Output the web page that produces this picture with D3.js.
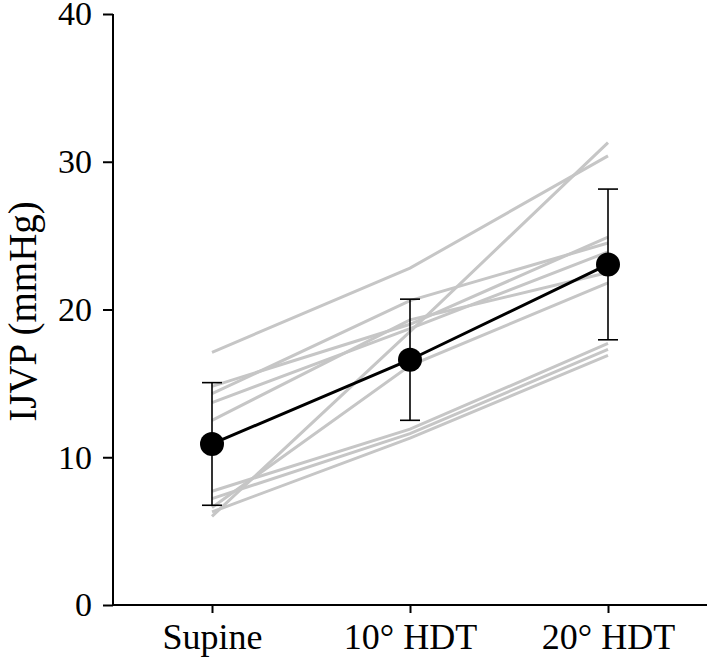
<!DOCTYPE html>
<html>
<head>
<meta charset="utf-8">
<script src="https://cdn.jsdelivr.net/npm/d3@7"></script>
<style>
  html, body { margin: 0; padding: 0; background: #fff; }
  svg { display: block; }
</style>
</head>
<body>
<svg id="chart" width="709" height="659"></svg>
<script>
// ---- data ----
const categories = ["Supine", "10° HDT", "20° HDT"];
const yTicks = [0, 10, 20, 30, 40];
const yLabel = "IJVP (mmHg)";

// individual subjects (values at Supine, 10° HDT, 20° HDT)
const subject1  = [17.1, 22.8, 30.4];
const subject2  = [6.0, 18.5, 31.3];
const subject3  = [14.8, 19.0, 24.9];
const subject4  = [14.3, 20.6, 24.5];
const subject5  = [13.7, 18.7, 23.9];
const subject6  = [12.5, 19.3, 22.5];
const subject7  = [6.6, 16.2, 21.8];
const subject8  = [7.7, 11.9, 17.7];
const subject9  = [7.2, 11.6, 17.3];
const subject10 = [6.3, 11.3, 16.9];
const subjects = [subject1, subject2, subject3, subject4, subject5,
                  subject6, subject7, subject8, subject9, subject10];

// group mean and SD
const meanValues = [10.9, 16.6, 23.05];
const sdValues   = [4.15, 4.1, 5.1];

// ---- drawing ----
const svg = d3.select("#chart");
const mLeft = 113, mRight = 707, mTop = 14, mBottom = 605;

const x = d3.scalePoint().domain(categories).range([mLeft, mRight]).padding(0.5);
const y = d3.scaleLinear().domain([0, 40]).range([mBottom, mTop]);

const font = "'Liberation Serif', 'Times New Roman', serif";

// subject lines
const line = d3.line().x((d, i) => x(categories[i])).y(d => y(d));
svg.append("g").selectAll("path").data(subjects).join("path")
  .attr("d", line)
  .attr("fill", "none")
  .attr("stroke", "#c6c6c6")
  .attr("stroke-width", 3);

// mean line
svg.append("path").datum(meanValues)
  .attr("d", line)
  .attr("fill", "none")
  .attr("stroke", "#000")
  .attr("stroke-width", 3);

// error bars
const eb = svg.append("g").selectAll("g").data(meanValues).join("g");
eb.append("line")
  .attr("x1", (d, i) => x(categories[i])).attr("x2", (d, i) => x(categories[i]))
  .attr("y1", (d, i) => y(d - sdValues[i])).attr("y2", (d, i) => y(d + sdValues[i]))
  .attr("stroke", "#000").attr("stroke-width", 1.6);
[-1, 1].forEach(s => {
  eb.append("line")
    .attr("x1", (d, i) => x(categories[i]) - 10).attr("x2", (d, i) => x(categories[i]) + 10)
    .attr("y1", (d, i) => y(d + s * sdValues[i])).attr("y2", (d, i) => y(d + s * sdValues[i]))
    .attr("stroke", "#000").attr("stroke-width", 1.6);
});

// mean points
svg.append("g").selectAll("circle").data(meanValues).join("circle")
  .attr("cx", (d, i) => x(categories[i]))
  .attr("cy", d => y(d))
  .attr("r", 12)
  .attr("fill", "#000");

// axes
const yAxis = svg.append("g").attr("transform", `translate(${mLeft},0)`)
  .call(d3.axisLeft(y).tickValues(yTicks).tickSize(10).tickPadding(11));
const xAxis = svg.append("g").attr("transform", `translate(0,${mBottom})`)
  .call(d3.axisBottom(x).tickSize(8).tickPadding(10));

[yAxis, xAxis].forEach(a => {
  a.select(".domain").attr("stroke", "#000").attr("stroke-width", 2);
  a.selectAll(".tick line").attr("stroke", "#000").attr("stroke-width", 2);
  a.selectAll("text").attr("fill", "#000").style("font-family", font);
});
yAxis.selectAll("text").style("font-size", "34px");
xAxis.selectAll("text").style("font-size", "36px");
xAxis.select(".domain").attr("d", `M${mLeft},0H${mRight}`);
yAxis.select(".domain").attr("d", `M0,${mTop}V${mBottom}`);

// y label
svg.append("text")
  .attr("transform", `translate(36,${(mTop + mBottom) / 2 + 2}) rotate(-90)`)
  .attr("text-anchor", "middle")
  .style("font-family", font)
  .style("font-size", "39px")
  .attr("fill", "#000")
  .text(yLabel);
</script>
</body>
</html>
